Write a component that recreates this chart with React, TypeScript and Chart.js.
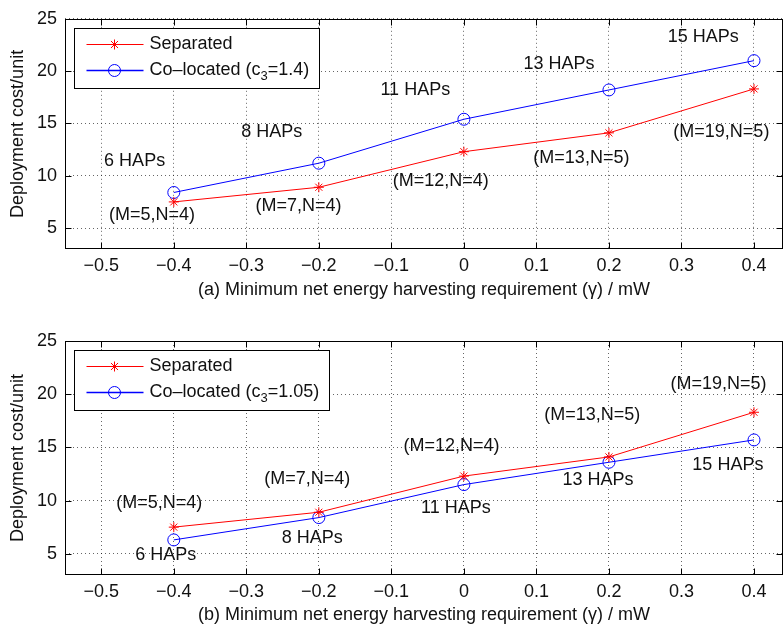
import React, { useEffect, useRef } from 'react';
import { Chart, registerables } from 'chart.js';
Chart.register(...registerables);

const FONT = '"Liberation Sans", Arial, Helvetica, sans-serif';
const W = 784;
const H = 314;

// ---- data ----
const xValues = [-0.4, -0.2, 0, 0.2, 0.4];
const separated = [7.5, 8.9, 12.3, 14.1, 18.3];
const colocatedA = [8.4, 11.2, 15.4, 18.2, 21.0];
const colocatedB = [6.3, 8.4, 11.5, 13.6, 15.7];

const xTicks = [-0.5, -0.4, -0.3, -0.2, -0.1, 0, 0.1, 0.2, 0.3, 0.4];
const xTickLabels = ['−0.5', '−0.4', '−0.3', '−0.2', '−0.1', '0', '0.1', '0.2', '0.3', '0.4'];
const yTicks = [5, 10, 15, 20, 25];
const yTickLabels = ['5', '10', '15', '20', '25'];

const hapLabels = ['6 HAPs', '8 HAPs', '11 HAPs', '13 HAPs', '15 HAPs'];
const mnLabels = ['(M=5,N=4)', '(M=7,N=4)', '(M=12,N=4)', '(M=13,N=5)', '(M=19,N=5)'];

// annotation anchors (data coordinates: gamma, cost)
const hapXA = [-0.454, -0.265, -0.067, 0.131, 0.330];
const hapYA = [11.4, 14.2, 18.2, 20.7, 23.3];
const mnXA = [-0.430, -0.228, -0.032, 0.162, 0.355];
const mnYA = [6.2, 7.1, 9.5, 11.7, 14.2];
const hapXB = [-0.411, -0.209, -0.011, 0.185, 0.364];
const hapYB = [4.9, 6.5, 9.3, 11.9, 13.3];
const mnXB = [-0.420, -0.216, -0.017, 0.177, 0.351];
const mnYB = [9.8, 12.0, 15.1, 18.0, 21.0];

const titleA = '(a) Minimum net energy harvesting requirement (γ) / mW';
const titleB = '(b) Minimum net energy harvesting requirement (γ) / mW';
const yTitle = 'Deployment cost/unit';

type Ann = { text: string; x: number; y: number };

function buildAnns(hx: number[], hy: number[], mx: number[], my: number[]): Ann[] {
  const out: Ann[] = [];
  hapLabels.forEach((t, i) => out.push({ text: t, x: hx[i], y: hy[i] }));
  mnLabels.forEach((t, i) => out.push({ text: t, x: mx[i], y: my[i] }));
  return out;
}

function drawMarker(ctx: CanvasRenderingContext2D, style: string, x: number, y: number, color: string) {
  ctx.save();
  ctx.strokeStyle = color;
  ctx.lineWidth = 1;
  ctx.beginPath();
  if (style === 'star') {
    const r = 5;
    for (let k = 0; k < 4; k++) {
      const ang = (k * Math.PI) / 4;
      ctx.moveTo(x - r * Math.cos(ang), y - r * Math.sin(ang));
      ctx.lineTo(x + r * Math.cos(ang), y + r * Math.sin(ang));
    }
  } else {
    ctx.arc(x, y, 6, 0, Math.PI * 2);
  }
  ctx.stroke();
  ctx.restore();
}

function measureLabel(ctx: CanvasRenderingContext2D, label: string) {
  const parts = label.split('₃');
  ctx.font = `18px ${FONT}`;
  let w = ctx.measureText(parts[0]).width;
  if (parts.length > 1) {
    ctx.font = `13px ${FONT}`;
    w += ctx.measureText('3').width;
    ctx.font = `18px ${FONT}`;
    w += ctx.measureText(parts[1]).width;
  }
  return w;
}

function drawLabel(ctx: CanvasRenderingContext2D, label: string, x: number, y: number) {
  const parts = label.split('₃');
  ctx.textAlign = 'left';
  ctx.textBaseline = 'middle';
  ctx.font = `18px ${FONT}`;
  ctx.fillText(parts[0], x, y);
  let cx = x + ctx.measureText(parts[0]).width;
  if (parts.length > 1) {
    ctx.font = `13px ${FONT}`;
    ctx.fillText('3', cx, y + 6);
    cx += ctx.measureText('3').width;
    ctx.font = `18px ${FONT}`;
    ctx.fillText(parts[1], cx, y);
  }
}

const decorPlugin = {
  id: 'decor',
  afterDraw(chart: any, _args: any, opts: any) {
    const { ctx, chartArea: a, scales } = chart;
    const xs = scales.x;
    const ys = scales.y;
    ctx.save();
    // box
    ctx.strokeStyle = '#000';
    ctx.lineWidth = 1;
    const L = Math.round(a.left) + 0.5;
    const T = Math.round(a.top) + 0.5;
    const R = Math.round(a.right) - 0.5;
    const B = Math.round(a.bottom) - 0.5;
    ctx.strokeRect(L, T, R - L, B - T);
    // inward ticks on all sides
    ctx.beginPath();
    for (const v of xTicks) {
      const px = Math.round(xs.getPixelForValue(v)) + 0.5;
      ctx.moveTo(px, B);
      ctx.lineTo(px, B - 6);
      ctx.moveTo(px, T);
      ctx.lineTo(px, T + 6);
    }
    for (const v of yTicks) {
      const py = Math.round(ys.getPixelForValue(v)) + 0.5;
      ctx.moveTo(L, py);
      ctx.lineTo(L + 6, py);
      ctx.moveTo(R, py);
      ctx.lineTo(R - 6, py);
    }
    ctx.stroke();

    // annotations
    ctx.font = `18px ${FONT}`;
    ctx.fillStyle = '#111';
    ctx.textAlign = 'center';
    ctx.textBaseline = 'middle';
    (opts.labels as Ann[]).forEach((l) => {
      ctx.fillText(l.text, xs.getPixelForValue(l.x), ys.getPixelForValue(l.y));
    });

    // legend
    const ds = chart.data.datasets;
    const bx = Math.round(a.left + 9) + 0.5;
    const by = Math.round(a.top + 9) + 0.5;
    let maxW = 0;
    ds.forEach((d: any) => {
      maxW = Math.max(maxW, measureLabel(ctx, d.label));
    });
    const bw = Math.round(75 + maxW + 10);
    const bh = 60;
    ctx.fillStyle = '#fff';
    ctx.fillRect(bx, by, bw, bh);
    ctx.strokeStyle = '#000';
    ctx.lineWidth = 1;
    ctx.strokeRect(bx, by, bw, bh);
    ds.forEach((d: any, i: number) => {
      const cy = Math.round(by + 15 + i * 26.5) + 0.5;
      ctx.save();
      ctx.strokeStyle = d.borderColor;
      ctx.lineWidth = i === 0 ? 1 : 1.5;
      ctx.beginPath();
      ctx.moveTo(bx + 12, cy);
      ctx.lineTo(bx + 69, cy);
      ctx.stroke();
      ctx.restore();
      drawMarker(ctx, d.pointStyle, bx + 40, cy, d.borderColor);
      ctx.fillStyle = '#111';
      drawLabel(ctx, d.label, bx + 75, cy);
    });
    ctx.restore();
  },
};

type PanelProps = {
  coloc: number[];
  colocLabel: string;
  anns: Ann[];
  title: string;
  padTop: number;
  xAxisH: number;
  titlePad: number;
};

function Panel({ coloc, colocLabel, anns, title, padTop, xAxisH, titlePad }: PanelProps) {
  const ref = useRef<HTMLCanvasElement | null>(null);
  useEffect(() => {
    if (!ref.current) return;
    const tickFont = { size: 18, family: FONT };
    const chart = new Chart(ref.current, {
      type: 'line',
      data: {
        datasets: [
          {
            label: 'Separated',
            data: xValues.map((x, i) => ({ x, y: separated[i] })),
            borderColor: '#ff0000',
            backgroundColor: '#ff0000',
            borderWidth: 1,
            pointStyle: 'star',
            pointRadius: 5,
            pointBorderWidth: 1,
            pointBorderColor: '#ff0000',
            tension: 0,
            fill: false,
          },
          {
            label: colocLabel,
            data: xValues.map((x, i) => ({ x, y: coloc[i] })),
            borderColor: '#0000ff',
            backgroundColor: 'rgba(0,0,0,0)',
            borderWidth: 1,
            pointStyle: 'circle',
            pointRadius: 6,
            pointBorderWidth: 1,
            pointBorderColor: '#0000ff',
            pointBackgroundColor: 'rgba(0,0,0,0)',
            tension: 0,
            fill: false,
          },
        ],
      },
      options: {
        responsive: false,
        animation: false,
        devicePixelRatio: 1,
        events: [],
        layout: { padding: { top: padTop, left: 0, right: 1, bottom: 0 }, autoPadding: false },
        plugins: {
          legend: { display: false },
          tooltip: { enabled: false },
          decor: { labels: anns },
        } as any,
        scales: {
          x: {
            type: 'linear',
            min: -0.55,
            max: 0.44,
            afterBuildTicks: (s: any) => {
              s.ticks = xTicks.map((v) => ({ value: v }));
            },
            afterFit: (s: any) => {
              s.height = xAxisH;
            },
            ticks: {
              callback: (v: any) => xTickLabels[xTicks.findIndex((t) => Math.abs(t - v) < 1e-9)],
              font: tickFont,
              color: '#111',
              padding: 6,
              maxRotation: 0,
              autoSkip: false,
            },
            grid: { color: 'rgba(0,0,0,0.6)', lineWidth: 1, drawTicks: false },
            border: { display: false, dash: [1, 3] },
            title: {
              display: true,
              text: title,
              font: tickFont,
              color: '#111',
              padding: { top: 0, bottom: titlePad },
            },
          },
          y: {
            type: 'linear',
            min: 3,
            max: 25,
            afterBuildTicks: (s: any) => {
              s.ticks = yTicks.map((v) => ({ value: v }));
            },
            afterFit: (s: any) => {
              s.width = 65;
            },
            ticks: {
              callback: (v: any) => yTickLabels[yTicks.indexOf(v)],
              font: tickFont,
              color: '#111',
              padding: 8,
              autoSkip: false,
            },
            grid: { color: 'rgba(0,0,0,0.6)', lineWidth: 1, drawTicks: false },
            border: { display: false, dash: [1, 3] },
            title: {
              display: true,
              text: yTitle,
              font: tickFont,
              color: '#111',
              padding: { top: 7, bottom: 0 },
            },
          },
        },
      } as any,
      plugins: [decorPlugin as any],
    });
    return () => chart.destroy();
  }, []);
  return (
    <div style={{ width: W, height: H }}>
      <canvas ref={ref} width={W} height={H} style={{ display: 'block', width: W, height: H }} />
    </div>
  );
}

export default function App() {
  return (
    <div style={{ position: 'absolute', left: 0, top: 0, width: W, height: 2 * H, background: '#fff' }}>
      <Panel
        coloc={colocatedA}
        colocLabel="Co–located (c₃=1.4)"
        anns={buildAnns(hapXA, hapYA, mnXA, mnYA)}
        title={titleA}
        padTop={15}
        xAxisH={65}
        titlePad={13}
      />
      <Panel
        coloc={colocatedB}
        colocLabel="Co–located (c₃=1.05)"
        anns={buildAnns(hapXB, hapYB, mnXB, mnYB)}
        title={titleB}
        padTop={27}
        xAxisH={53}
        titlePad={2}
      />
    </div>
  );
}
